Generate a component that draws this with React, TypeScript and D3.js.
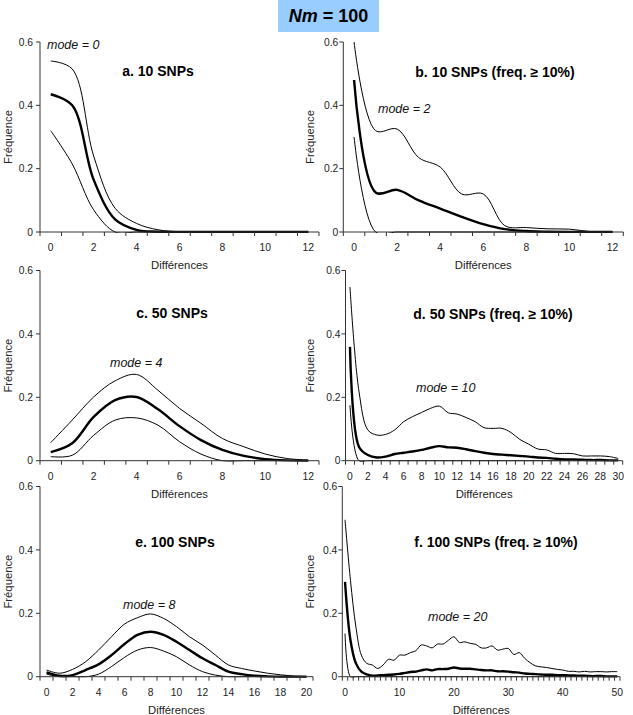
import React from "react";
import * as d3 from "d3";

// ---------- data ----------
const upperA = [0.54, 0.515, 0.24, 0.075, 0.027, 0.007, 0.001, 0, 0, 0, 0, 0, 0];
const meanA = [0.435, 0.4, 0.165, 0.04, 0.007, 0.001, 0, 0, 0, 0, 0, 0, 0];
const lowerA = [0.32, 0.215, 0.07, 0, 0, 0, 0, 0, 0, 0, 0, 0, 0];

const upperB = [0.6, 0.32, 0.325, 0.235, 0.205, 0.12, 0.12, 0.02, 0.014, 0.01, 0.009, 0.001, 0];
const meanB = [0.48, 0.125, 0.133, 0.1, 0.074, 0.048, 0.025, 0.009, 0.003, 0.001, 0, 0, 0];
const lowerB = [0.3, 0, 0, 0, 0, 0, 0, 0, 0, 0, 0, 0, 0];

const upperC = [0.057, 0.128, 0.201, 0.252, 0.272, 0.222, 0.165, 0.118, 0.07, 0.044, 0.021, 0.007, 0.002];
const meanC = [0.027, 0.055, 0.138, 0.191, 0.201, 0.162, 0.109, 0.065, 0.034, 0.015, 0.005, 0.001, 0];
const lowerC = [0.013, 0.017, 0.08, 0.128, 0.135, 0.112, 0.06, 0.021, 0, 0, 0, 0, 0];

const upperD = [0.548, 0.22, 0.097, 0.081, 0.083, 0.097, 0.123, 0.139, 0.152, 0.165, 0.172, 0.151, 0.147, 0.136, 0.123, 0.104, 0.102, 0.102, 0.089, 0.067, 0.052, 0.037, 0.034, 0.023, 0.023, 0.022, 0.015, 0.015, 0.015, 0.013, 0.007];
const meanD = [0.359, 0.044, 0.018, 0.01, 0.013, 0.021, 0.025, 0.029, 0.034, 0.041, 0.046, 0.042, 0.041, 0.036, 0.03, 0.025, 0.021, 0.019, 0.017, 0.015, 0.013, 0.01, 0.009, 0.006, 0.004, 0.004, 0.003, 0.002, 0.002, 0.001, 0.001];
const lowerD = [0.175, 0, 0, 0, 0, 0, 0, 0, 0, 0, 0, 0, 0, 0, 0, 0, 0, 0, 0, 0, 0, 0, 0, 0, 0, 0, 0, 0, 0, 0, 0];

const upperE = [0.021, 0.011, 0.023, 0.047, 0.084, 0.126, 0.166, 0.186, 0.198, 0.184, 0.158, 0.126, 0.1, 0.068, 0.037, 0.026, 0.018, 0.011, 0.006, 0.002, 0];
const meanE = [0.014, 0.003, 0.005, 0.021, 0.039, 0.068, 0.103, 0.132, 0.142, 0.132, 0.11, 0.084, 0.058, 0.037, 0.016, 0.008, 0.003, 0.001, 0, 0, 0];
const lowerE = [0.008, 0, 0, 0, 0.008, 0.032, 0.061, 0.084, 0.092, 0.081, 0.063, 0.037, 0.016, 0.005, 0, 0, 0, 0, 0, 0, 0];

const upperF = [0.495, 0.304, 0.157, 0.068, 0.042, 0.037, 0.026, 0.037, 0.055, 0.052, 0.068, 0.068, 0.076, 0.082, 0.1, 0.097, 0.091, 0.103, 0.103, 0.115, 0.126, 0.108, 0.11, 0.105, 0.102, 0.091, 0.091, 0.097, 0.084, 0.087, 0.089, 0.07, 0.076, 0.058, 0.044, 0.034, 0.031, 0.029, 0.026, 0.023, 0.021, 0.017, 0.017, 0.015, 0.017, 0.015, 0.016, 0.016, 0.015, 0.016, 0.016];
const meanF = [0.299, 0.115, 0.042, 0.016, 0.007, 0.003, 0.004, 0.005, 0.006, 0.007, 0.009, 0.012, 0.015, 0.016, 0.02, 0.023, 0.02, 0.024, 0.024, 0.025, 0.029, 0.026, 0.025, 0.025, 0.023, 0.021, 0.02, 0.02, 0.017, 0.017, 0.016, 0.014, 0.013, 0.01, 0.009, 0.008, 0.007, 0.006, 0.006, 0.005, 0.005, 0.004, 0.004, 0.003, 0.003, 0.002, 0.002, 0.002, 0.001, 0.001, 0.001];
const lowerF = [0.136, 0, 0, 0, 0, 0, 0, 0, 0, 0, 0, 0, 0, 0, 0, 0, 0, 0, 0, 0, 0, 0, 0, 0, 0, 0, 0, 0, 0, 0, 0, 0, 0, 0, 0, 0, 0, 0, 0, 0, 0, 0, 0, 0, 0, 0, 0, 0, 0, 0, 0];

const yTicks = [0, 0.2, 0.4, 0.6];
const xLabels12 = [0, 2, 4, 6, 8, 10, 12];
const xLabels20 = [0, 2, 4, 6, 8, 10, 12, 14, 16, 18, 20];
const xLabels30 = [0, 2, 4, 6, 8, 10, 12, 14, 16, 18, 20, 22, 24, 26, 28, 30];
const xLabels50 = [0, 10, 20, 30, 40, 50];

const titles = ["a. 10 SNPs", "b. 10 SNPs (freq. ≥ 10%)", "c. 50 SNPs", "d. 50 SNPs (freq. ≥ 10%)", "e. 100 SNPs", "f. 100 SNPs (freq. ≥ 10%)"];
const modes = ["mode = 0", "mode = 2", "mode = 4", "mode = 10", "mode = 8", "mode = 20"];

// ---------- layout ----------
const FONT = "'Liberation Sans', Arial, sans-serif";

const panels = [
  { x0: 40, x1: 319, yTop: 42, yBot: 232, series: [upperA, meanA, lowerA], labels: xLabels12, title: titles[0], tx: 158, ty: 76, mode: modes[0], mx: 47, my: 48.5, left: true },
  { x0: 343.3, x1: 623.3, yTop: 42, yBot: 232, series: [upperB, meanB, lowerB], labels: xLabels12, title: titles[1], tx: 495, ty: 77, mode: modes[1], mx: 378, my: 112.5, left: false },
  { x0: 40, x1: 319, yTop: 270.5, yBot: 460.7, series: [upperC, meanC, lowerC], labels: xLabels12, title: titles[2], tx: 172, ty: 318, mode: modes[2], mx: 110, my: 366.5, left: true },
  { x0: 345.5, x1: 622.7, yTop: 270.5, yBot: 460.7, series: [upperD, meanD, lowerD], labels: xLabels30, title: titles[3], tx: 493, ty: 319, mode: modes[3], mx: 416, my: 391.5, left: false },
  { x0: 40, x1: 313, yTop: 486.5, yBot: 676.7, series: [upperE, meanE, lowerE], labels: xLabels20, title: titles[4], tx: 175, ty: 547, mode: modes[4], mx: 123, my: 608.5, left: true },
  { x0: 342.3, x1: 620, yTop: 486.5, yBot: 676.7, series: [upperF, meanF, lowerF], labels: xLabels50, title: titles[5], tx: 496, ty: 547, mode: modes[5], mx: 428, my: 620.5, left: false },
];

const strokeWidths = [1, 2.4, 1];
const AXIS = "#333";

function Panel({ p, idx }: { p: any; idx: number }) {
  const n = p.series[0].length;
  const cats = d3.range(n);
  const x = d3.scaleBand<number>().domain(cats).range([p.x0, p.x1]).paddingInner(0).paddingOuter(0);
  const bw = x.bandwidth();
  const cx = (i: number) => (x(i) as number) + bw / 2;
  const y = d3.scaleLinear().domain([0, 0.6]).range([p.yBot, p.yTop]);
  const line = d3
    .line<number>()
    .x((_, i) => cx(i))
    .y((v) => y(v))
    .curve(d3.curveCatmullRom.alpha(0.5));
  const boundaries = d3.range(n + 1).map((i) => p.x0 + i * bw);
  const yLabelGap = p.left ? 7 : 5;
  const yTitleX = p.left ? 8 : 310;
  const midY = (p.yTop + p.yBot) / 2;
  const midX = (p.x0 + p.x1) / 2;
  const clipId = `clip-${idx}`;
  return (
    <g>
      <defs>
        <clipPath id={clipId}>
          <rect x={p.x0} y={p.yTop - 1} width={p.x1 - p.x0} height={p.yBot - p.yTop + 2} />
        </clipPath>
      </defs>
      {/* series */}
      <g clipPath={`url(#${clipId})`}>
        {p.series.map((s: number[], k: number) => (
          <path key={k} d={line(s) || ""} fill="none" stroke="#000" strokeWidth={strokeWidths[k]} strokeLinejoin="round" />
        ))}
      </g>
      {/* y axis */}
      <line x1={p.x0} x2={p.x0} y1={p.yTop} y2={p.yBot} stroke={AXIS} strokeWidth={1} />
      {yTicks.map((t) => (
        <g key={t}>
          <line x1={p.x0 - 4} x2={p.x0} y1={y(t)} y2={y(t)} stroke={AXIS} strokeWidth={1} />
          <text x={p.x0 - yLabelGap} y={y(t) + 3.6} textAnchor="end" fontSize={10.3} fontFamily={FONT} fill="#222">
            {t === 0 ? "0" : t.toFixed(1)}
          </text>
        </g>
      ))}
      {/* x axis */}
      <line x1={p.x0} x2={p.x1} y1={p.yBot} y2={p.yBot} stroke={AXIS} strokeWidth={1} />
      {boundaries.map((b, i) => (
        <line key={i} x1={b} x2={b} y1={p.yBot} y2={p.yBot + 4} stroke={AXIS} strokeWidth={1} />
      ))}
      {p.labels.map((l: number) => (
        <text key={l} x={cx(l)} y={p.yBot + 19} textAnchor="middle" fontSize={10.3} fontFamily={FONT} fill="#222">
          {l}
        </text>
      ))}
      <text x={midX} y={p.yBot + 37} textAnchor="middle" fontSize={11.3} fontFamily={FONT} fill="#222">
        Différences
      </text>
      <text
        transform={`translate(${yTitleX + 4},${midY}) rotate(-90)`}
        textAnchor="middle"
        fontSize={11.3}
        fontFamily={FONT}
        fill="#222"
      >
        Fréquence
      </text>
      <text x={p.tx} y={p.ty} textAnchor="middle" fontSize={14} fontWeight="bold" fontFamily={FONT} fill="#000">
        {p.title}
      </text>
      <text x={p.mx} y={p.my} fontSize={12.5} fontStyle="italic" fontFamily={FONT} fill="#111">
        {p.mode}
      </text>
    </g>
  );
}

export default function App() {
  return (
    <svg
      width={633}
      height={715}
      style={{ position: "absolute", left: 0, top: 0, background: "#fff" }}
    >
      <rect x={0} y={0} width={633} height={715} fill="#fff" />
      <rect x={278} y={0} width={101} height={32} fill="#99ccff" />
      <text x={328.5} y={22} textAnchor="middle" fontSize={18} fontWeight="bold" fontFamily={FONT} fill="#000">
        <tspan fontStyle="italic">Nm</tspan>
        <tspan> = 100</tspan>
      </text>
      {panels.map((p, i) => (
        <Panel key={i} p={p} idx={i} />
      ))}
    </svg>
  );
}
